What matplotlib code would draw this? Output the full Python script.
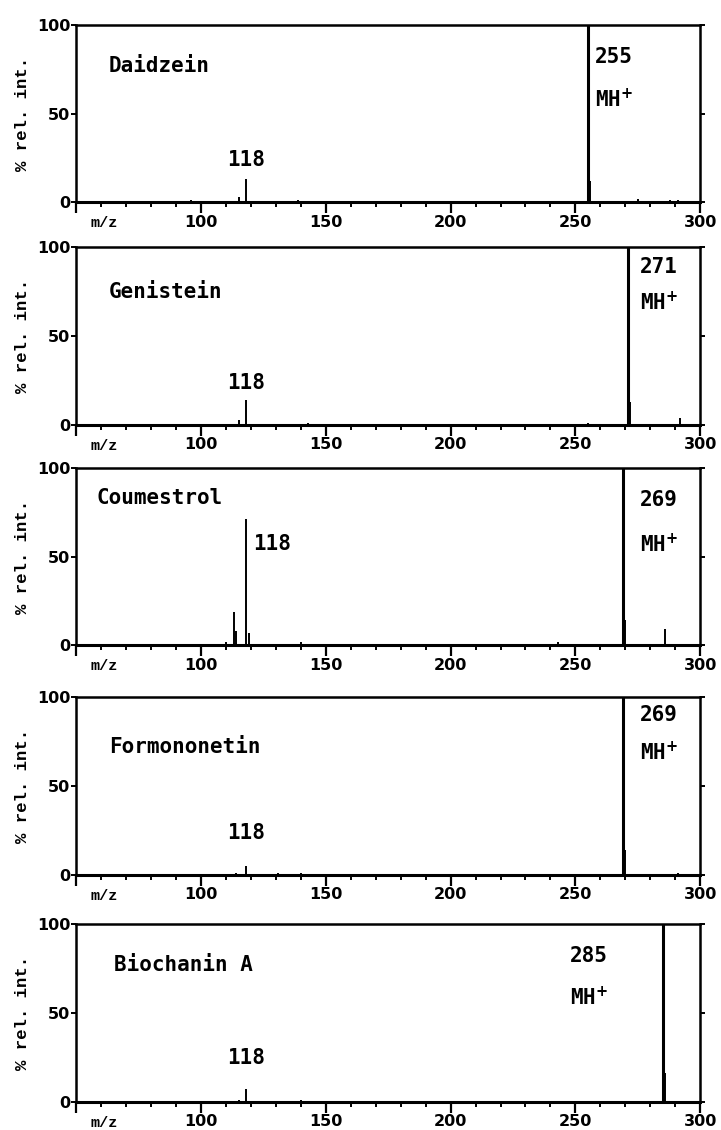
import matplotlib.pyplot as plt
from matplotlib.ticker import MultipleLocator

# compounds and their protonated molecular ions
names = ["Daidzein", "Genistein", "Coumestrol", "Formononetin", "Biochanin A"]
mh_ions = [255, 271, 269, 269, 285]

# peak lists (m/z, % relative intensity)
daidzein_mz = [96, 115, 118, 139, 255, 256, 275, 288, 291]
daidzein_int = [1, 3, 13, 1, 100, 12, 2, 1, 1.5]

genistein_mz = [115, 118, 143, 255, 271, 272, 292]
genistein_int = [2.5, 14, 1, 1, 100, 13, 4]

coumestrol_mz = [110, 113, 114, 118, 119, 140, 243, 269, 270, 286]
coumestrol_int = [2, 19, 8, 71, 7, 2, 2, 100, 14, 9]

formononetin_mz = [114, 118, 131, 140, 269, 270, 291]
formononetin_int = [1, 5, 1, 1, 100, 14, 1]

biochanin_mz = [115, 118, 140, 285, 286]
biochanin_int = [1, 7, 1, 100, 16]

all_mz = [daidzein_mz, genistein_mz, coumestrol_mz, formononetin_mz, biochanin_mz]
all_int = [daidzein_int, genistein_int, coumestrol_int, formononetin_int, biochanin_int]

# panel placement (figure fractions) and label positions (data coords)
bottoms = [0.821, 0.624, 0.429, 0.226, 0.025]
name_pos = [(63, 77), (63, 75), (58, 83), (63, 72), (65, 77)]
frag_pos = [(118, 18, "center"), (118, 18, "center"), (121, 57, "left"),
            (118, 18, "center"), (118, 19, "center")]
ion_pos = [(258, 82, 58), (276, 89, 69), (276, 82, 57), (276, 90, 69), (248, 82, 59)]

mono = "DejaVu Sans Mono"
courier = "Liberation Mono"

fig = plt.figure(figsize=(7.21, 11.3), dpi=100)

for i in range(5):
    ax = fig.add_axes([0.106, bottoms[i], 0.865, 0.157])
    mz = all_mz[i]
    inten = all_int[i]
    for m, y in zip(mz, inten):
        lw = 2.2 if y >= 100 else 1.4
        ax.vlines(m, 0, y, color="black", linewidth=lw)

    ax.set_xlim(50, 300)
    ax.set_ylim(0, 100)
    for s in ax.spines.values():
        s.set_linewidth(1.8)
    ax.spines["bottom"].set_linewidth(2.2)

    ax.set_xticks([50, 100, 150, 200, 250, 300])
    ax.set_xticklabels(["", "100", "150", "200", "250", "300"])
    ax.xaxis.set_minor_locator(MultipleLocator(10))
    ax.set_yticks([0, 50, 100])
    ax.set_yticklabels(["0", "50", "100"])
    ax.tick_params(axis="x", which="major", direction="out", length=8, width=1.6,
                   labelsize=11.5, pad=1)
    ax.tick_params(axis="x", which="minor", direction="out", length=3.5, width=1.4)
    ax.tick_params(axis="y", direction="out", length=3.5, width=1.4, labelsize=11.5,
                   pad=1, right=True)
    for lab in ax.get_xticklabels() + ax.get_yticklabels():
        lab.set_fontweight("bold")

    ax.annotate("m/z", xy=(61, 0), xycoords="data", xytext=(0, -10),
                textcoords="offset points", ha="center", va="top",
                fontsize=11, fontweight="bold", family=courier, annotation_clip=False)
    ax.set_ylabel("% rel. int.", fontsize=12.5, fontweight="bold", family=courier,
                  labelpad=5)

    nx, ny = name_pos[i]
    ax.text(nx, ny, names[i], fontsize=15, fontweight="bold", family=mono,
            va="center", ha="left")

    fx, fy, fha = frag_pos[i]
    ax.text(fx, fy, "118", fontsize=15, fontweight="bold", family=mono,
            va="bottom" if fha == "center" else "center", ha=fha)

    ix, iy1, iy2 = ion_pos[i]
    ax.text(ix, iy1, str(mh_ions[i]), fontsize=15, fontweight="bold", family=mono,
            va="center", ha="left")
    ax.text(ix, iy2, r"MH$^{\mathbf{+}}$", fontsize=15, fontweight="bold", family=mono,
            va="center", ha="left")

fig.savefig("out.png", dpi=100)
